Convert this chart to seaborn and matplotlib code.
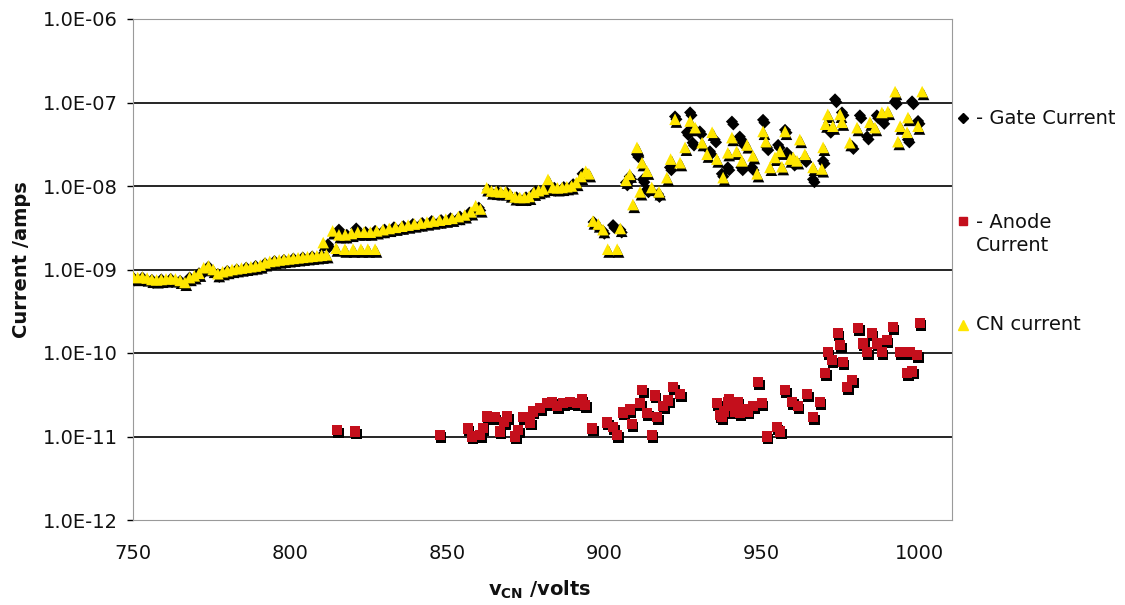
import matplotlib
matplotlib.use("Agg")
import matplotlib.pyplot as plt
import seaborn as sns
from matplotlib import patheffects as pe
from matplotlib.lines import Line2D
from matplotlib.ticker import FixedLocator, FuncFormatter, NullLocator

# ---------------------------------------------------------------- data
# CN current (yellow triangles)
cn_volts = [
    750, 751.5, 753, 754.5, 756, 757.5, 759, 760.5, 762, 763.5, 765, 766.5,
    768, 769.5, 771, 772.5, 774, 775.5, 777, 778.5, 780, 781.5, 783, 784.5,
    786, 787.5, 789, 790.5, 792, 793.5, 795, 796.5, 798, 799.5, 801, 802.5,
    804, 805.5, 807, 808.5, 810, 811.5, 810.5, 813.5,
    815.5, 817.5, 819.5, 821.5, 823.5, 825.5, 827.5, 829.5, 831.5, 833.5,
    835.5, 837.5, 839.5, 841.5, 843.5, 845.5, 847.5, 849.5, 851.5, 853.5,
    855.5, 857.5, 859, 860.5,
    814.6, 817.4, 820, 822.5, 824.7, 827,
    862.5, 864, 865.5, 867, 868.5, 870, 871.5, 873, 874.5, 876, 877.5, 879,
    880.5, 882, 883.5, 885, 886.5, 888, 889.5, 891, 892.5, 894, 895,
    896.3, 898, 899.5, 901, 904, 905,
    906.8, 908, 909, 910.3, 911.3, 911.9, 913.5, 915, 917.3, 919.8, 921,
    922.4, 924, 925.6, 927.2, 928.8, 931, 932.6, 934.2, 935.7, 937.7, 939.2,
    940.5, 942, 943.7, 945.3, 947.2, 948.5, 950.4, 951.3, 952.6, 954.2,
    955.8, 956.4, 957.4, 959, 960, 961.2, 962.1, 963.7, 966.3, 969.1, 969.5,
    970.3, 971, 972.6, 974.9, 975.5, 978, 980.3, 984.4, 986, 988.2, 990.1,
    992.4, 993.3, 994, 996.2, 996.5, 999.7, 1001,
]
cn_amps = [
    8.2e-10, 8.0e-10, 8.1e-10, 7.9e-10, 7.6e-10, 7.5e-10, 7.6e-10, 7.7e-10,
    7.8e-10, 7.7e-10, 7.4e-10, 7.0e-10, 8.0e-10, 8.4e-10, 9.0e-10, 1.05e-9,
    1.1e-9, 1.0e-9, 8.9e-10, 9.4e-10, 9.7e-10, 1.0e-9, 1.02e-9, 1.04e-9,
    1.06e-9, 1.08e-9, 1.1e-9, 1.13e-9, 1.2e-9, 1.25e-9, 1.27e-9, 1.3e-9,
    1.32e-9, 1.34e-9, 1.36e-9, 1.38e-9, 1.4e-9, 1.42e-9, 1.44e-9, 1.46e-9,
    1.48e-9, 1.5e-9, 2.1e-9, 2.9e-9,
    2.6e-9, 2.6e-9, 2.7e-9, 2.8e-9, 2.8e-9, 2.8e-9, 2.9e-9, 3.0e-9, 3.1e-9,
    3.2e-9, 3.3e-9, 3.4e-9, 3.5e-9, 3.6e-9, 3.7e-9, 3.8e-9, 3.9e-9, 4.0e-9,
    4.1e-9, 4.3e-9, 4.5e-9, 4.9e-9, 5.8e-9, 5.3e-9,
    1.8e-9, 1.75e-9, 1.75e-9, 1.75e-9, 1.75e-9, 1.75e-9,
    9.5e-9, 8.7e-9, 8.6e-9, 8.5e-9, 8.5e-9, 8.0e-9, 7.4e-9, 7.3e-9, 7.3e-9,
    7.5e-9, 8.4e-9, 8.8e-9, 9.2e-9, 1.2e-8, 9.6e-9, 9.5e-9, 9.6e-9, 9.8e-9,
    1.0e-8, 1.1e-8, 1.3e-8, 1.5e-8, 1.4e-8,
    3.8e-9, 3.5e-9, 3.0e-9, 1.75e-9, 1.75e-9, 3.1e-9,
    1.17e-8, 1.38e-8, 6.0e-9, 2.9e-8, 8.5e-9, 1.9e-8, 1.5e-8, 9.6e-9, 8.5e-9,
    1.26e-8, 2.1e-8, 6.3e-8, 1.9e-8, 2.9e-8, 6.0e-8, 5.0e-8, 3.3e-8, 2.4e-8,
    4.4e-8, 2.1e-8, 1.26e-8, 2.5e-8, 3.8e-8, 2.6e-8, 2.0e-8, 3.1e-8, 2.3e-8,
    1.4e-8, 4.5e-8, 3.4e-8, 1.67e-8, 2.2e-8, 2.6e-8, 1.7e-8, 4.5e-8, 2.1e-8,
    2.2e-8, 2.0e-8, 3.6e-8, 2.4e-8, 1.67e-8, 1.6e-8, 2.9e-8, 5.5e-8, 7.2e-8,
    5.2e-8, 7.2e-8, 5.8e-8, 3.3e-8, 5.0e-8, 5.8e-8, 5.0e-8, 7.6e-8, 7.8e-8,
    1.35e-7, 3.4e-8, 5.2e-8, 4.4e-8, 6.6e-8, 5.2e-8, 1.35e-7,
]

# Gate current (black diamonds)
gate_volts = [
    750, 753, 756, 759, 762, 765, 768, 771, 774, 777, 780, 783, 786, 789,
    792, 795, 798, 801, 804, 807, 810, 812, 815.5, 818, 821, 824, 827, 830,
    833, 836, 839, 842, 845, 848, 851, 854, 857, 860, 863, 866, 869, 872,
    875, 878, 881, 884, 887, 890, 893,
    896.5, 899.5, 902.7, 905,
    906.8, 908, 910.3, 912.2, 913.5, 917, 920.8, 922.4, 926.2, 927.2, 928,
    930.3, 933.5, 935, 937.3, 939.2, 940.5, 943, 944, 943.5, 946.9, 950.4,
    951.6, 955.2, 957.4, 958, 960, 963.7, 966.3, 969.5, 971.5, 973.3, 975.5,
    978.7, 981.2, 983.5, 986.6, 988.5, 992.4, 996.5, 997.8, 999.7,
]
gate_amps = [
    8.0e-10, 8.0e-10, 7.5e-10, 7.6e-10, 7.7e-10, 7.3e-10, 8.0e-10, 9.0e-10,
    1.08e-9, 8.8e-10, 9.6e-10, 1.0e-9, 1.05e-9, 1.1e-9, 1.18e-9, 1.26e-9,
    1.3e-9, 1.35e-9, 1.39e-9, 1.43e-9, 1.47e-9, 2.0e-9, 3.0e-9, 2.6e-9,
    3.1e-9, 2.8e-9, 2.9e-9, 3.0e-9, 3.2e-9, 3.3e-9, 3.5e-9, 3.6e-9, 3.8e-9,
    3.9e-9, 4.1e-9, 4.3e-9, 4.8e-9, 5.5e-9, 9.0e-9, 8.5e-9, 8.3e-9, 7.3e-9,
    7.3e-9, 8.6e-9, 9.2e-9, 9.5e-9, 9.7e-9, 1.05e-8, 1.4e-8,
    3.7e-9, 2.9e-9, 3.4e-9, 3.0e-9,
    1.1e-8, 1.3e-8, 2.4e-8, 1.2e-8, 9.1e-9, 8.0e-9, 1.67e-8, 6.8e-8, 4.4e-8,
    7.6e-8, 3.3e-8, 4.5e-8, 2.6e-8, 3.6e-8, 1.4e-8, 1.67e-8, 5.9e-8, 3.9e-8,
    3.3e-8, 1.67e-8, 1.67e-8, 6.2e-8, 2.9e-8, 3.1e-8, 4.7e-8, 2.5e-8, 1.9e-8,
    2.1e-8, 1.2e-8, 2.0e-8, 4.7e-8, 1.09e-7, 7.6e-8, 3.0e-8, 7.0e-8, 3.9e-8,
    7.0e-8, 6.0e-8, 1.03e-7, 3.6e-8, 1.03e-7, 6.0e-8,
]

# Anode current (red squares)
anode_volts = [
    814.9, 820.6, 847.6, 856.5, 857.8, 860.4, 861.3, 862.6, 865.1, 866.7,
    868, 869, 871.5, 872.5, 874, 876.3, 877.2, 879.5, 881.7, 883.3, 884.9,
    886.8, 889, 891.2, 892.8, 893.8, 896, 900.8, 902.7, 904, 905.9, 908,
    908.7, 911.3, 912, 913.5, 915, 916, 916.7, 918.6, 920.2, 921.8, 924,
    935.7, 936.7, 937.3, 938, 939.2, 939.5, 940.8, 941.5, 942.4, 943, 944,
    945.5, 947.2, 948.8, 950, 951.6, 954.8, 955.8, 957.4, 959.6, 961.5,
    964.4, 966.3, 968.5, 970.1, 971, 972.3, 974.2, 974.9, 975.8, 977.1,
    978.7, 980.6, 982.2, 983.5, 985, 986.6, 988.2, 989.8, 991.7, 994,
    996.2, 997.8, 997.1, 999.4, 1000.3,
]
anode_amps = [
    1.2e-11, 1.15e-11, 1.05e-11, 1.25e-11, 1.0e-11, 1.05e-11, 1.27e-11,
    1.73e-11, 1.7e-11, 1.15e-11, 1.5e-11, 1.73e-11, 1.0e-11, 1.2e-11,
    1.7e-11, 1.47e-11, 2.0e-11, 2.2e-11, 2.5e-11, 2.6e-11, 2.3e-11, 2.5e-11,
    2.6e-11, 2.5e-11, 2.8e-11, 2.4e-11, 1.25e-11, 1.47e-11, 1.3e-11,
    1.05e-11, 1.94e-11, 2.1e-11, 1.4e-11, 2.5e-11, 3.6e-11, 1.9e-11,
    1.05e-11, 3.1e-11, 1.7e-11, 2.3e-11, 2.7e-11, 3.9e-11, 3.2e-11,
    2.5e-11, 1.8e-11, 1.7e-11, 2.0e-11, 2.6e-11, 2.8e-11, 2.3e-11, 2.0e-11,
    2.6e-11, 1.9e-11, 2.1e-11, 2.0e-11, 2.3e-11, 4.5e-11, 2.5e-11, 1.0e-11,
    1.3e-11, 1.15e-11, 3.6e-11, 2.6e-11, 2.3e-11, 3.2e-11, 1.7e-11,
    2.6e-11, 5.8e-11, 1.03e-10, 8.2e-11, 1.74e-10, 1.25e-10, 7.8e-11,
    3.9e-11, 4.75e-11, 2.0e-10, 1.3e-10, 1.03e-10, 1.74e-10, 1.3e-10,
    1.03e-10, 1.43e-10, 2.05e-10, 1.03e-10, 5.8e-11, 6.0e-11, 1.03e-10,
    9.5e-11, 2.3e-10,
]

x_ticks = [750, 800, 850, 900, 950, 1000]
y_ticks = [1e-12, 1e-11, 1e-10, 1e-9, 1e-8, 1e-7, 1e-6]

legend_labels = ["- Gate Current", "- Anode\nCurrent", "CN current"]

# ---------------------------------------------------------------- style
YELLOW = "#FFE600"
RED = "#C40F1C"
BLACK = "#000000"

sns.set_theme(style="white")
plt.rcParams["font.family"] = ["DejaVu Sans"]
plt.rcParams["mathtext.fontset"] = "dejavusans"

fig = plt.figure(figsize=(11.25, 6.05), dpi=100)
fig.patch.set_facecolor("white")
ax = fig.add_axes([133 / 1125, 1 - 520 / 605, (952 - 133) / 1125, (520 - 19) / 605])
ax.set_facecolor("white")

shadow = [pe.SimplePatchShadow(offset=(1.0, -2.0), shadow_rgbFace=(0, 0, 0), alpha=1.0),
          pe.Normal()]

sns.scatterplot(x=gate_volts, y=gate_amps, ax=ax, marker="D", s=38, color=BLACK,
                edgecolor="none", linewidth=0, zorder=3, path_effects=shadow)
sns.scatterplot(x=anode_volts, y=anode_amps, ax=ax, marker="s", s=55, color=RED,
                edgecolor="none", linewidth=0, zorder=4, path_effects=shadow)
sns.scatterplot(x=cn_volts, y=cn_amps, ax=ax, marker="^", s=70, color=YELLOW,
                edgecolor="none", linewidth=0, zorder=5, path_effects=shadow)

ax.set_yscale("log")
ax.set_xlim(750, 1010.5)
ax.set_ylim(1e-12, 1e-6)

ax.xaxis.set_major_locator(FixedLocator(x_ticks))
ax.yaxis.set_major_locator(FixedLocator(y_ticks))
ax.yaxis.set_minor_locator(NullLocator())
ax.xaxis.set_minor_locator(NullLocator())
ax.yaxis.set_major_formatter(FuncFormatter(lambda v, p: f"{v:.1E}"))
ax.xaxis.set_major_formatter(FuncFormatter(lambda v, p: f"{v:.0f}"))

ax.tick_params(axis="y", which="major", direction="out", length=4, width=1.0,
               color=BLACK, pad=7, labelsize=14, labelcolor="#111111", left=True)
ax.tick_params(axis="x", which="major", length=0, pad=17, labelsize=14,
               labelcolor="#111111")

ax.grid(False)
ax.yaxis.grid(True, color=BLACK, linewidth=1.2)
ax.set_axisbelow(True)
for gl, val in zip(ax.get_ygridlines(), y_ticks):
    if val in (y_ticks[0], y_ticks[-1]):
        gl.set_visible(False)

for side in ["top", "right", "bottom", "left"]:
    ax.spines[side].set_color("#9a9a9a")
    ax.spines[side].set_linewidth(0.8)
    ax.spines[side].set_visible(True)

ax.set_xlabel("")
ax.set_ylabel("")

fig.text(22 / 1125, 1 - 260 / 605, "Current /amps", rotation=90, ha="center",
         va="center", fontsize=14, fontweight="bold", color="#111111")
fig.text(540 / 1125, 1 - 590 / 605, r"$\mathbf{v}_{\mathbf{CN}}$ /volts", ha="center",
         va="center", fontsize=14, fontweight="bold", color="#111111")

# ---------------------------------------------------------------- legend
legend_rows = [
    (118, 234, "D", BLACK, 5.0),
    (221, 234, "s", RED, 5.5),
    (325, 325, "^", YELLOW, 7.0),
]
for (marker_y, text_y, mk, col, ms), label in zip(legend_rows, legend_labels):
    fig.add_artist(Line2D([963 / 1125], [1 - marker_y / 605], marker=mk, color=col,
                          markersize=ms, linestyle="none", transform=fig.transFigure))
    ty = marker_y if label.count("\n") == 0 else text_y
    fig.text(976 / 1125, 1 - ty / 605, label, ha="left", va="center", fontsize=14,
             color="#111111", linespacing=1.25)

fig.savefig("out.png", dpi=100, facecolor="white")
